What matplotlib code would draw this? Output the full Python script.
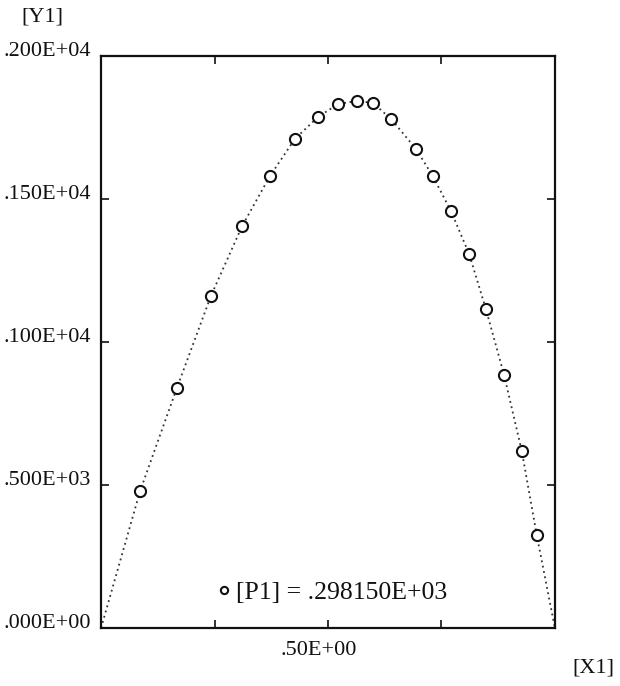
import matplotlib
matplotlib.use("Agg")
import matplotlib.pyplot as plt
from matplotlib.ticker import FixedLocator
from matplotlib.transforms import ScaledTranslation

plt.rcParams['font.family'] = ['Liberation Serif', 'DejaVu Serif']

# values
x1 = [0.086, 0.167, 0.242, 0.311, 0.372, 0.427, 0.478, 0.522, 0.564, 0.599,
      0.639, 0.694, 0.731, 0.771, 0.811, 0.848, 0.888, 0.927, 0.960]
y1 = [479, 839, 1161, 1406, 1580, 1710, 1787, 1832, 1843, 1836,
      1780, 1675, 1580, 1458, 1308, 1115, 885, 619, 325]
# dotted curve starts and ends on the x axis
line_x = [0.0] + x1 + [1.0]
line_y = [0] + y1 + [0]

y_ticks = [0, 500, 1000, 1500, 2000]
y_labels = ['.000E+00', '.500E+03', '.100E+04', '.150E+04', '.200E+04']
x_major = [0.5]
x_major_labels = ['.50E+00']
x_minor = [0.25, 0.75]
p1_label = '[P1] = .298150E+03'

ink = '#111111'

fig = plt.figure(figsize=(6.2, 6.86), dpi=100)
ax = fig.add_axes([0.163, 0.0845, 0.732, 0.8338])

ax.plot(line_x, line_y, linestyle=(0, (1, 2.0)), lw=1.3, color='#333333')
ax.plot(x1, y1, linestyle='none', marker='o', ms=8, mfc='white',
        mec=ink, mew=1.5, label=p1_label)

ax.set_xlim(0, 1)
ax.set_ylim(0, 2000)

ax.set_yticks(y_ticks)
ax.set_yticklabels(y_labels)
ax.set_xticks(x_major)
ax.set_xticklabels(x_major_labels)
ax.xaxis.set_minor_locator(FixedLocator(x_minor))

ax.tick_params(axis='both', which='both', direction='in', top=True, right=True,
               length=6, width=1.2, color=ink, labelsize=16, labelcolor=ink)
ax.tick_params(axis='y', pad=7)
ax.tick_params(axis='x', pad=9)
for lab in ax.get_yticklabels():
    lab.set_verticalalignment('baseline')
# the old plot puts the x label a little left of its tick
for lab in ax.get_xticklabels():
    lab.set_transform(lab.get_transform() +
                      ScaledTranslation(-0.09, 0, fig.dpi_scale_trans))

for s in ax.spines.values():
    s.set_linewidth(1.6)
    s.set_color(ink)

ax.legend(loc='center left', bbox_to_anchor=(0.205, 0.062), frameon=False,
          handlelength=0.5, handletextpad=0.25, markerscale=0.65,
          fontsize=18.5, labelcolor=ink)

fig.text(42 / 620, 1 - 17 / 686, '[Y1]', ha='center', va='center',
         fontsize=16, color=ink)
fig.text(593 / 620, 1 - 668 / 686, '[X1]', ha='center', va='center',
         fontsize=16, color=ink)

fig.savefig('out.png', dpi=100)
